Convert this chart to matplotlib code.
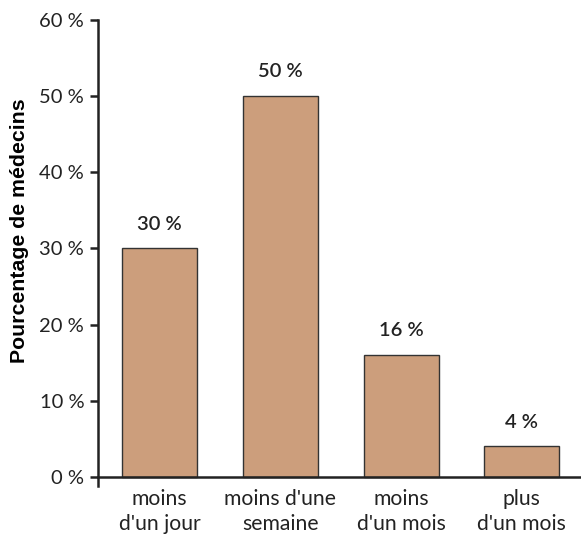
import matplotlib
matplotlib.use("Agg")
import matplotlib.pyplot as plt

categories = ["moins\nd'un jour", "moins d'une\nsemaine", "moins\nd'un mois", "plus\nd'un mois"]
values = [30, 50, 16, 4]
yticks = [0, 10, 20, 30, 40, 50, 60]
ylabel = "Pourcentage de médecins"

bar_color = "#CC9E7C"
text_font = ["Lato", "DejaVu Sans"]

fig = plt.figure(figsize=(5.81, 5.43), dpi=100)
ax = fig.add_axes([0.1687, 0.105, 0.8313, 0.858])

x = list(range(len(values)))
ax.bar(x, values, width=0.62, color=bar_color, edgecolor="#333333", linewidth=1.0, zorder=2)

for xi, v in zip(x, values):
    ax.text(xi, v + 3.2, f"{v} %", ha="center", va="center", fontsize=14.5,
            fontweight="semibold", family=text_font, color="#222222")

ax.set_xlim(-0.51, 3.49)
ax.set_ylim(-1.2, 60)
ax.set_yticks(yticks)
ax.set_yticklabels([f"{t} %" for t in yticks])
ax.set_xticks(x)
ax.set_xticklabels([])
ax.tick_params(axis="x", length=0)
ax.tick_params(axis="y", length=6, width=1.8, color="#222222", pad=4,
               labelsize=14.5, labelcolor="#222222", labelfontfamily=text_font)

# category names under each bar, two lines each
for xi, cat in zip(x, categories):
    ax.annotate(cat, xy=(xi, 0), xycoords=("data", "axes fraction"),
                xytext=(0, -2), textcoords="offset points",
                ha="center", va="top", fontsize=15.2, family=text_font,
                color="#222222", linespacing=1.32, annotation_clip=False)

for side in ["top", "right"]:
    ax.spines[side].set_visible(False)
ax.spines["bottom"].set_position(("data", 0))
ax.spines["left"].set_linewidth(1.8)
ax.spines["bottom"].set_linewidth(1.8)
ax.spines["left"].set_color("#222222")
ax.spines["bottom"].set_color("#222222")

ylab = ax.set_ylabel(ylabel, fontsize=15.3, fontweight="bold",
                     family=["Liberation Sans", "DejaVu Sans"])
ylab.set_va("center")
ax.yaxis.set_label_coords(-0.162, 0.549)

fig.savefig("out.png", dpi=100)
